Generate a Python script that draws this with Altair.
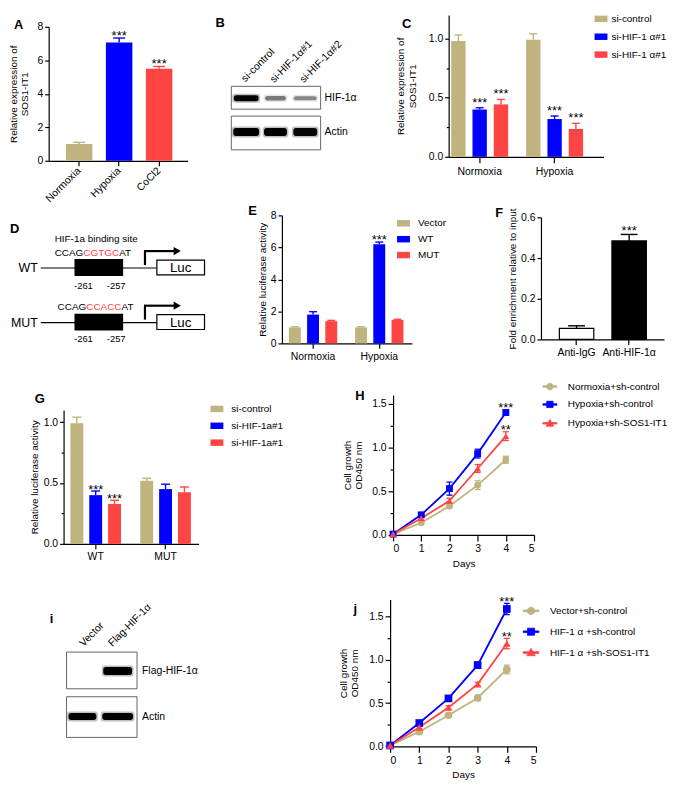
import math
import altair as alt
import pandas as pd

FONT = "Liberation Sans"
TAN = "#BFB37E"
BLUE = "#0000FF"
RED = "#FF4444"

# ---------------- data ----------------
A_cats = ["Normoxia", "Hypoxia", "CoCl2"]
A_vals = [1.0, 7.07, 5.49]
A_errs = [0.10, 0.26, 0.14]
A_sig = ["", "***", "***"]

B_lanes = ["si-control", "si-HIF-1α#1", "si-HIF-1α#2"]
B_rows = ["HIF-1α", "Actin"]
B_hif = [1.0, 0.40, 0.34]
B_actin = [1.0, 1.0, 0.97]

C_groups = ["Normoxia", "Hypoxia"]
C_keys = ["c_ctrl", "c_kd1", "c_kd2"]
C_labels = ["si-control", "si-HIF-1 α#1", "si-HIF-1 α#1"]
C_normoxia = [0.98, 0.40, 0.443]
C_normoxia_err = [0.05, 0.015, 0.042]
C_hypoxia = [0.99, 0.32, 0.235]
C_hypoxia_err = [0.05, 0.025, 0.048]
C_sig_normoxia = ["", "***", "***"]
C_sig_hypoxia = ["", "***", "***"]

D_constructs = ["WT", "MUT"]
D_seq_wt = ["CCAG", "CGTGC", "AT"]
D_seq_mut = ["CCAG", "CCACC", "AT"]
D_sites = ["-261", "-257"]
D_site_label = "HIF-1a binding site"
D_reporter = "Luc"

E_groups = ["Normoxia", "Hypoxia"]
E_keys = ["Vector", "WT", "MUT"]
E_normoxia = [1.0, 1.80, 1.39]
E_normoxia_err = [0.04, 0.18, 0.05]
E_hypoxia = [1.0, 6.19, 1.47]
E_hypoxia_err = [0.04, 0.14, 0.04]
E_sig_normoxia = ["", "", ""]
E_sig_hypoxia = ["", "***", ""]

F_cats = ["Anti-IgG", "Anti-HIF-1α"]
F_vals = [0.054, 0.484]
F_errs = [0.013, 0.032]
F_sig = ["", "***"]

G_groups = ["WT", "MUT"]
G_keys = ["g_ctrl", "g_kd1", "g_kd2"]
G_labels = ["si-control", "si-HIF-1a#1", "si-HIF-1a#1"]
G_wt = [0.99, 0.40, 0.328]
G_wt_err = [0.05, 0.034, 0.030]
G_mut = [0.518, 0.45, 0.424]
G_mut_err = [0.020, 0.040, 0.043]
G_sig_wt = ["", "***", "***"]
G_sig_mut = ["", "", ""]

days = [0, 1, 2, 3, 4]
H_keys = ["Normoxia+sh-control", "Hypoxia+sh-control", "Hypoxia+sh-SOS1-IT1"]
H_normoxia = [0.01, 0.14, 0.33, 0.57, 0.86]
H_normoxia_err = [0.0, 0.02, 0.02, 0.05, 0.04]
H_hypoxia = [0.01, 0.23, 0.53, 0.93, 1.40]
H_hypoxia_err = [0.0, 0.02, 0.075, 0.05, 0.03]
H_sh = [0.01, 0.19, 0.39, 0.76, 1.13]
H_sh_err = [0.0, 0.02, 0.03, 0.045, 0.05]
H_sig = [["", "", "", "", ""], ["", "", "", "", "***"], ["", "", "", "", "**"]]

I_lanes = ["Vector", "Flag-HIF-1α"]
I_rows = ["Flag-HIF-1α", "Actin"]
I_flag = [0.0, 1.0]
I_actin = [1.0, 1.0]

J_keys = ["Vector+sh-control", "HIF-1 α +sh-control", "HIF-1 α +sh-SOS1-IT1"]
J_vector = [0.01, 0.17, 0.36, 0.56, 0.89]
J_vector_err = [0.0, 0.015, 0.02, 0.03, 0.05]
J_hif = [0.01, 0.27, 0.555, 0.94, 1.59]
J_hif_err = [0.0, 0.02, 0.02, 0.035, 0.065]
J_sh = [0.01, 0.22, 0.45, 0.72, 1.19]
J_sh_err = [0.0, 0.015, 0.02, 0.02, 0.06]
J_sig = [["", "", "", "", ""], ["", "", "", "", "***"], ["", "", "", "", "**"]]

RECT_PATH = "M-1,-0.5H1V0.5H-1Z"
P_LINE = "M-2.1,-0.22H2.1V0.22H-2.1Z"
P_CIRCLE = P_LINE + "M" + "L".join(
    f"{math.cos(a * math.pi / 8):.3f},{math.sin(a * math.pi / 8):.3f}" for a in range(16)) + "Z"
P_SQUARE = P_LINE + "M-0.95,-0.95H0.95V0.95H-0.95Z"
P_TRIANGLE = P_LINE + "M0,-1.15L1.15,0.85H-1.15Z"

ARIAL = {"A": 0.667, "C": 0.722, "G": 0.778, "T": 0.611}


def tw(s, size):
    return sum(ARIAL[c] for c in s) * size


def label_expr(keys, labels):
    expr = "''"
    for k, l in zip(reversed(keys), reversed(labels)):
        expr = f"datum.value === '{k}' ? '{l}' : ({expr})"
    return expr


def letter_layer(ch, dx, dy):
    return alt.Chart(pd.DataFrame({"t": [ch]})).mark_text(
        font=FONT, fontSize=13, fontWeight="bold", align="left", baseline="middle", color="black"
    ).encode(x=alt.value(dx), y=alt.value(dy), text="t:N")


def make_yaxis(values, major, fmt, title, tpad, tick=4):
    kw = dict(values=values, title=title, titlePadding=tpad, titleLineHeight=11.5,
              tickSize=tick, format=fmt)
    if major:
        test = f"abs(datum.value / {major} - round(datum.value / {major})) < 0.001"
        kw["labelExpr"] = f"({test}) ? format(datum.value, '{fmt}') : ''"
        kw["tickSize"] = {"condition": {"test": test, "value": tick}, "value": round(tick * 0.6, 1)}
    return alt.Axis(**kw)


def bar_panel(top, groups, keys, colors, vals, errs, sigs, *, w, h, ymax, yvals, major, fmt,
              ytitle, tpad, xs, xo=None, legend=None, letter=None, xlab=None,
              color_field="ser", bar_stroke=None, err_color=None, star_dy=1, cap=8):
    rows = []
    for gi, g in enumerate(groups):
        for si, k in enumerate(keys):
            v = vals[gi][si]
            e = errs[gi][si]
            rows.append({"grp": g, "ser": k, "val": v, "hi": v + e, "sig": sigs[gi][si]})
    df = pd.DataFrame(rows)
    X = alt.X("grp:N", sort=groups, scale=alt.Scale(**xs), axis=alt.Axis(title=None, **xlab))
    yax = make_yaxis(yvals, major, fmt, ytitle, tpad)
    ysc = alt.Scale(domain=[0, ymax], nice=False, zero=True, range=[top + h, top])

    def Y(f):
        return alt.Y(f, type="quantitative", scale=ysc, axis=yax)

    dom = keys if color_field == "ser" else groups
    if legend is not None:
        legend = alt.Legend(**{**legend, "legendY": legend["legendY"] + top})
    color = alt.Color(f"{color_field}:N", scale=alt.Scale(domain=dom, range=colors),
                      legend=legend)
    enc = {"x": X}
    if xo is not None:
        enc["xOffset"] = alt.XOffset("ser:N", sort=keys, scale=alt.Scale(**xo))
    bkw = {"stroke": bar_stroke, "strokeWidth": 1.2} if bar_stroke else {}
    bars = alt.Chart(df).mark_bar(**bkw).encode(y=Y("val"), color=color, **enc)
    if err_color:
        rule = alt.Chart(df).mark_rule(strokeWidth=1.4, color=err_color).encode(
            y=Y("val"), y2=alt.Y2("hi:Q"), **enc)
        capm = alt.Chart(df).mark_tick(orient="horizontal", size=cap, thickness=1.4,
                                       opacity=1, color=err_color).encode(y=Y("hi"), **enc)
    else:
        rule = alt.Chart(df).mark_rule(strokeWidth=1.4).encode(
            y=Y("val"), y2=alt.Y2("hi:Q"), color=color, **enc)
        capm = alt.Chart(df).mark_tick(orient="horizontal", size=cap, thickness=1.4,
                                       opacity=1).encode(y=Y("hi"), color=color, **enc)
    stars = alt.Chart(df).mark_text(font=FONT, fontSize=13, baseline="alphabetic",
                                    dy=star_dy, color="black").encode(
        y=Y("hi"), text="sig:N", **enc)
    layers = [bars, rule, capm, stars]
    if letter:
        layers.append(letter_layer(letter[0], letter[1], letter[2] + top))
    return alt.layer(*layers).properties(width=w, height=top + h)


def bar_legend(lx, ly, rowpad, keys=None, labels=None, loff=6):
    kw = dict(title=None, orient="none", legendX=lx, legendY=ly, symbolType=RECT_PATH,
              symbolSize=169, symbolStrokeWidth=0, symbolOpacity=1, labelFont=FONT,
              labelFontSize=10, labelOffset=loff, rowPadding=rowpad, padding=0)
    if labels:
        kw["labelExpr"] = label_expr(keys, labels)
    return kw


def growth_panel(top, keys, colors, shapes, paths, vals, errs, sigs, *, w, h, ymax, tpad,
                 legend_kw, letter, msize, star_dy):
    rows = []
    for k, vs, es, ss in zip(keys, vals, errs, sigs):
        for d, v, e, s in zip(days, vs, es, ss):
            rows.append({"ser": k, "day": d, "val": v, "lo": v - e, "hi": v + e, "sig": s})
    df = pd.DataFrame(rows)
    X = alt.X("day:Q", scale=alt.Scale(domain=[0, 5], nice=False),
              axis=alt.Axis(values=[0, 1, 2, 3, 4, 5], format="d", title="Days", tickSize=6,
                            labelPadding=3, titlePadding=4))
    yax = make_yaxis([0, 0.25, 0.5, 0.75, 1.0, 1.25, 1.5], 0.5, ".1f",
                     ["Cell growth", "OD450 nm"], tpad, tick=5)
    ysc = alt.Scale(domain=[0, ymax], nice=False, range=[top + h, top])

    def Y(f):
        return alt.Y(f, type="quantitative", scale=ysc, axis=yax)

    base = alt.Chart(df)
    layers = []
    for k, c, s in zip(keys, colors, shapes):
        sub = base.transform_filter(alt.datum.ser == k)
        layers.append(sub.mark_line(strokeWidth=1.8, color=c).encode(x=X, y=Y("val")))
    for k, c, s in zip(keys, colors, shapes):
        sub = base.transform_filter(alt.datum.ser == k).transform_filter(
            "datum.hi - datum.lo > 0.001")
        layers.append(sub.mark_rule(strokeWidth=1.3, color=c).encode(
            x=X, y=Y("lo"), y2=alt.Y2("hi:Q")))
        for f in ("lo", "hi"):
            layers.append(sub.mark_tick(orient="horizontal", size=6, thickness=1.3, opacity=1,
                                        color=c).encode(x=X, y=Y(f)))
    for k, c, s in zip(keys, colors, shapes):
        sub = base.transform_filter(alt.datum.ser == k)
        layers.append(sub.mark_point(shape=s, filled=True, size=msize, opacity=1,
                                     color=c).encode(x=X, y=Y("val")))
    layers.append(base.transform_filter("datum.sig != ''").mark_text(
        font=FONT, fontSize=13, baseline="alphabetic", dy=star_dy, color="black").encode(
        x=X, y=Y("hi"), text="sig:N"))
    # legend-only layer (no marks drawn): line + marker symbols
    leg = alt.Legend(**{**legend_kw, "legendY": legend_kw["legendY"] + top})
    layers.append(base.transform_filter("false").mark_point(filled=True, opacity=1).encode(
        x=X, y=Y("val"),
        fill=alt.Fill("ser:N", scale=alt.Scale(domain=keys, range=colors), legend=leg),
        stroke=alt.Stroke("ser:N", scale=alt.Scale(domain=keys, range=colors), legend=leg),
        shape=alt.Shape("ser:N", scale=alt.Scale(domain=keys, range=paths), legend=leg)))
    layers.append(letter_layer(letter[0], letter[1], letter[2] + top))
    return alt.layer(*layers).properties(width=w, height=top + h)


def canvas_scales(W, H, top):
    sx = alt.Scale(domain=[0, W], nice=False, zero=False)
    sy = alt.Scale(domain=[0, H], nice=False, zero=False, range=[top, top + H])
    return sx, sy


def rect_layer(rows, sx, sy, **mk):
    df = pd.DataFrame(rows)
    enc = dict(x=alt.X("x0:Q", scale=sx, axis=None), x2="x1:Q",
               y=alt.Y("y0:Q", scale=sy, axis=None), y2="y1:Q")
    if "op" in df.columns:
        enc["opacity"] = alt.Opacity("op:Q", scale=None, legend=None)
    return alt.Chart(df).mark_rect(**mk).encode(**enc)


def seg_layer(rows, sx, sy, **mk):
    df = pd.DataFrame(rows)
    return alt.Chart(df).mark_rule(**mk).encode(
        x=alt.X("x0:Q", scale=sx, axis=None), x2="x1:Q",
        y=alt.Y("y0:Q", scale=sy, axis=None), y2="y1:Q")


def text_layer(rows, sx, sy, **mk):
    df = pd.DataFrame(rows)
    enc = dict(x=alt.X("x:Q", scale=sx, axis=None), y=alt.Y("y:Q", scale=sy, axis=None),
               text="t:N")
    mk.setdefault("font", FONT)
    return alt.Chart(df).mark_text(**mk).encode(**enc)


def band_rows(lane_x, widths, yc, hgt, intensities):
    out = []
    for x, w, it in zip(lane_x, widths, intensities):
        if it <= 0:
            continue
        hh = hgt * (0.55 + 0.45 * it)
        out.append(dict(x0=x - w / 2 - 1.5, x1=x + w / 2 + 1.5, y0=yc - hh / 2 - 1.5,
                        y1=yc + hh / 2 + 1.5, op=0.25 * it))
        out.append(dict(x0=x - w / 2, x1=x + w / 2, y0=yc - hh / 2, y1=yc + hh / 2,
                        op=min(1.0, 0.12 + 0.88 * it)))
    return out


def blot_panel(top, W, H, lanes, rows_lbl, intens, box_y, lane_x, band_w, band_y, band_h,
               lab_xy, side_x, letter):
    sx, sy = canvas_scales(W, H, top)
    frames = rect_layer([dict(x0=0, x1=W, y0=a, y1=b) for a, b in box_y], sx, sy,
                        fill="white", stroke="#666666", strokeWidth=1)
    bands = []
    for ri in range(len(rows_lbl)):
        bands += band_rows(lane_x, band_w[ri], band_y[ri], band_h[ri], intens[ri])
    band_l = rect_layer(bands, sx, sy, fill="black", cornerRadius=2.5)
    lane_lbl = text_layer([dict(x=x, y=y, t=t) for t, (x, y) in zip(lanes, lab_xy)], sx, sy,
                          angle=315, align="left", baseline="alphabetic", fontSize=10.5,
                          color="black")
    side = text_layer([dict(x=side_x, y=y, t=t) for t, y in zip(rows_lbl, band_y)], sx, sy,
                      align="left", baseline="middle", fontSize=10.5, color="black")
    return alt.layer(frames, band_l, lane_lbl, side,
                     letter_layer(letter[0], letter[1], letter[2] + top)).properties(
        width=W, height=top + H)


def panel_D(top):
    W, H = 197, 130
    sx, sy = canvas_scales(W, H, top)
    ys = [47, 102]
    seqs = [D_seq_wt, D_seq_mut]
    seq_x0 = [44, 47]
    seq_dy = [-15, -16]
    site_dy = [18, 17]
    backbone, boxes, lucs, arrows, heads = [], [], [], [], []
    t_left, t_center, t_right = [], [], []
    for i, (name, seq, yc) in enumerate(zip(D_constructs, seqs, ys)):
        backbone.append(dict(x0=30, x1=147, y0=yc, y1=yc))
        boxes.append(dict(x0=64, x1=113, y0=yc - 9, y1=yc + 8))
        lucs.append(dict(x0=147, x1=195, y0=yc - 8, y1=yc + 7))
        arrows.append(dict(x0=135, x1=135, y0=yc - 3, y1=yc - 17))
        arrows.append(dict(x0=134, x1=165, y0=yc - 17, y1=yc - 17))
        heads.append(dict(x=167.5, y=yc - 17))
        t_center.append(dict(x=171, y=yc, t=D_reporter, s=13.5, c="black"))
        t_right.append(dict(x=27, y=yc, t=name, s=12.5, c="black"))
        for sx_pos, lab in zip([73, 106], D_sites):
            t_center.append(dict(x=sx_pos, y=yc + site_dy[i], t=lab, s=9.5, c="black"))
        x = seq_x0[i]
        for j, part in enumerate(seq):
            t_left.append(dict(x=x, y=yc + seq_dy[i], t=part, s=10,
                               c=RED if j == 1 else "black"))
            x += tw(part, 10)
        if i == 0:
            t_left.append(dict(x=44, y=yc - 29, t=D_site_label, s=10, c="black"))
    l_back = seg_layer(backbone, sx, sy, strokeWidth=1.2, color="black")
    l_box = rect_layer(boxes, sx, sy, fill="black")
    l_luc = rect_layer(lucs, sx, sy, fill="white", stroke="black", strokeWidth=1.2)
    l_arr = seg_layer(arrows, sx, sy, strokeWidth=2.2, color="black")
    l_head = alt.Chart(pd.DataFrame(heads)).mark_point(
        shape="triangle-right", filled=True, size=70, color="black", opacity=1).encode(
        x=alt.X("x:Q", scale=sx, axis=None), y=alt.Y("y:Q", scale=sy, axis=None))

    def txt(rows, align):
        df = pd.DataFrame(rows)
        enc = dict(x=alt.X("x:Q", scale=sx, axis=None), y=alt.Y("y:Q", scale=sy, axis=None),
                   text="t:N", size=alt.Size("s:Q", scale=None, legend=None),
                   color=alt.Color("c:N", scale=None, legend=None))
        return alt.Chart(df).mark_text(font=FONT, align=align, baseline="middle").encode(**enc)

    return alt.layer(l_back, l_box, l_luc, l_arr, l_head, txt(t_left, "left"),
                     txt(t_center, "center"), txt(t_right, "right"),
                     letter_layer("D", -1, 8 + top)).properties(width=W, height=top + H)


# ---------------- panel builders (argument: plot offset inside its row) ----------------
def make_A(top):
    return bar_panel(
        top, A_cats, ["v"], [TAN, BLUE, RED], [[v] for v in A_vals], [[e] for e in A_errs],
        [[s] for s in A_sig], w=140, h=135, ymax=8, yvals=[0, 2, 4, 6, 8], major=None,
        fmt="d", ytitle=["Relative expression of", "SOS1-IT1"], tpad=7,
        xs=dict(paddingInner=0.338, paddingOuter=0.406, align=0.53), color_field="grp",
        xlab=dict(labelAngle=315, labelAlign="right", labelBaseline="middle", tickSize=5,
                  labelPadding=3, labelFontSize=10.5),
        letter=("A", -35, -2), cap=12, star_dy=2)


def make_B(top):
    return blot_panel(top, 90, 64, B_lanes, B_rows, [B_hif, B_actin], [(0, 23), (30, 64)],
                      [15, 44.5, 74.5], [[25, 21, 23], [26, 23, 24]], [12, 46], [6, 8],
                      [(14, -4), (43, -3), (73, -3)], 94, ("B", -16, -64))


def make_C(top):
    return bar_panel(
        top, C_groups, C_keys, [TAN, BLUE, RED], [C_normoxia, C_hypoxia],
        [C_normoxia_err, C_hypoxia_err], [C_sig_normoxia, C_sig_hypoxia],
        w=156, h=143, ymax=1.2, yvals=[0, 0.25, 0.5, 0.75, 1.0], major=0.5, fmt=".1f",
        ytitle=["Relative expression of", "SOS1-IT1"], tpad=11,
        xs=dict(paddingInner=0.24, paddingOuter=0.153, align=0.11),
        xo=dict(paddingInner=0.326, paddingOuter=0),
        legend=bar_legend(147, -2.5, 6, C_keys, C_labels, loff=4),
        xlab=dict(labelAngle=0, tickSize=6, labelPadding=4, labelFontSize=10.5),
        letter=("C", -47, 9), cap=8, star_dy=-1)


def make_E(top):
    return bar_panel(
        top, E_groups, E_keys, [TAN, BLUE, RED], [E_normoxia, E_hypoxia],
        [E_normoxia_err, E_hypoxia_err], [E_sig_normoxia, E_sig_hypoxia],
        w=131, h=129, ymax=8, yvals=[0, 2, 4, 6, 8], major=None, fmt="d",
        ytitle="Relative luciferase activity", tpad=3,
        xs=dict(paddingInner=0.27, paddingOuter=0.117, align=0.45),
        xo=dict(paddingInner=0.346, paddingOuter=0),
        legend=bar_legend(116, 1.5, 4, loff=8),
        xlab=dict(labelAngle=0, tickSize=5, labelPadding=3, labelFontSize=10.5),
        letter=("E", -34, -4), cap=8, star_dy=1.5)


def make_F(top):
    return bar_panel(
        top, F_cats, ["v"], ["white", "black"], [[v] for v in F_vals], [[e] for e in F_errs],
        [[s] for s in F_sig], w=124, h=123, ymax=0.6, yvals=[0, 0.2, 0.4, 0.6], major=None,
        fmt=".1f", ytitle="Fold enrichment relative to input", tpad=3,
        xs=dict(paddingInner=0.345, paddingOuter=0.343, align=0.51), color_field="grp",
        bar_stroke="black", err_color="black",
        xlab=dict(labelAngle=0, tickSize=5, labelPadding=3, labelFontSize=10.5),
        letter=("F", -46, -4), cap=17, star_dy=1)


def make_G(top):
    return bar_panel(
        top, G_groups, G_keys, [TAN, BLUE, RED], [G_wt, G_mut], [G_wt_err, G_mut_err],
        [G_sig_wt, G_sig_mut], w=136, h=135, ymax=1.1, yvals=[0, 0.25, 0.5, 0.75, 1.0],
        major=0.5, fmt=".1f", ytitle="Relative luciferase activity", tpad=4,
        xs=dict(paddingInner=0.276, paddingOuter=0.104, align=0.47),
        xo=dict(paddingInner=0.316, paddingOuter=0),
        legend=bar_legend(148, -7.5, 5, G_keys, G_labels, loff=8),
        xlab=dict(labelAngle=0, tickSize=5, labelPadding=3, labelFontSize=10.5),
        letter=("G", -29, -11), cap=9, star_dy=2.5)


def make_H(top):
    return growth_panel(
        top, H_keys, [TAN, BLUE, RED], ["circle", "square", "triangle-up"],
        [P_CIRCLE, P_SQUARE, P_TRIANGLE], [H_normoxia, H_hypoxia, H_sh],
        [H_normoxia_err, H_hypoxia_err, H_sh_err], H_sig, w=142, h=141, ymax=1.6, tpad=8,
        legend_kw=dict(title=None, orient="none", legendX=153, legendY=-13.5, symbolSize=45,
                       symbolStrokeWidth=0.8, symbolOpacity=1, labelFont=FONT, labelFontSize=10,
                       labelOffset=13, rowPadding=8, padding=0),
        letter=("H", -38, 1), msize=48, star_dy=2)


def make_I(top):
    return blot_panel(top, 71, 86, I_lanes, I_rows, [I_flag, I_actin], [(0, 37), (45, 86)],
                      [16, 51.5], [[28, 29], [28, 31]], [19, 65], [8, 7],
                      [(17, -5), (46, -5)], 76, ("i", -17, -33))


def make_J(top):
    return growth_panel(
        top, J_keys, [TAN, BLUE, RED], ["circle", "square", "triangle-up"],
        [P_CIRCLE, P_SQUARE, P_TRIANGLE], [J_vector, J_hif, J_sh],
        [J_vector_err, J_hif_err, J_sh_err], J_sig, w=147, h=148, ymax=1.7, tpad=9,
        legend_kw=dict(title=None, orient="none", legendX=137, legendY=6.5, symbolSize=56,
                       symbolStrokeWidth=0.8, symbolOpacity=1, labelFont=FONT, labelFontSize=10,
                       labelOffset=14, rowPadding=9, padding=0),
        letter=("j", -37, 10), msize=60, star_dy=3)


# ---------------- layout ----------------
def gx(X):
    return int(round((X - 2) * 0.983))


def gy(Y):
    return int(round(Y * 0.984))


def spacer(w, h):
    return alt.Chart(pd.DataFrame({"s": [0]})).mark_rect(opacity=0).encode(
        x=alt.value(0), x2=alt.value(1), y=alt.value(0), y2=alt.value(1)
    ).properties(width=max(1, w), height=max(1, h))


RES = dict(color="independent", fill="independent", stroke="independent",
           shape="independent", x="independent", y="independent", xOffset="independent")

row_tops = [0, 199, 365, 585, 790]
layout = [
    [(make_A, 42, 16, 140), (make_B, 229, 77, 90), (make_C, 452, 4, 156)],
    [(panel_D, 3, 215, 197), (make_E, 281, 209, 131), (make_F, 546, 211, 124)],
    [(make_G, 57, 409, 136), (make_H, 395, 393, 142)],
    [(make_I, 60, 657, 71), (make_J, 392, 603, 147)],
]

rows = []
for r, row in enumerate(layout):
    T = gy(row_tops[r])
    row_h = gy(row_tops[r + 1]) - T
    items = []
    x = 0
    for k, (builder, X, Y, W) in enumerate(row):
        tx = gx(X)
        wsp = max(1, tx - x)
        items.append(spacer(wsp, row_h if k == 0 else 1))
        items.append(builder(gy(Y) - T))
        x += wsp + W
    rows.append(alt.hconcat(*items).properties(spacing=0, bounds="flush").resolve_scale(**RES))

chart = alt.vconcat(*rows).properties(spacing=0, padding=0).resolve_scale(**RES)
chart = chart.configure_view(stroke=None).configure_axis(
    domainColor="black", domainWidth=1.2, tickColor="black", tickWidth=1.2,
    labelColor="black", titleColor="black", labelFont=FONT, titleFont=FONT,
    labelFontSize=10.5, titleFontSize=10, titleFontWeight="normal", grid=False, labelPadding=2
).configure_legend(labelColor="black")

chart.save("out.html", embed_options={"renderer": "svg", "actions": False})
